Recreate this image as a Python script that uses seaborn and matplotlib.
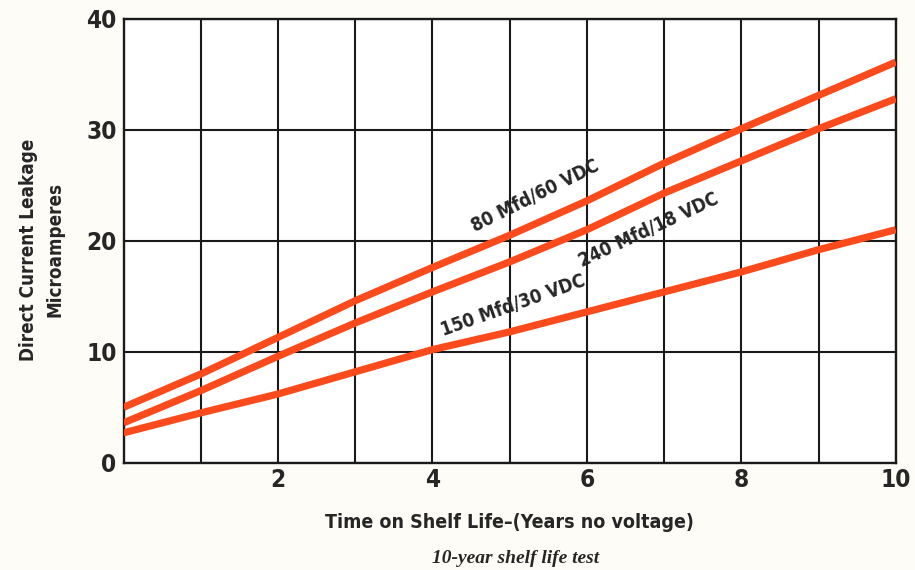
import numpy as np
import pandas as pd
import matplotlib
matplotlib.use('Agg')
import matplotlib.pyplot as plt
import seaborn as sns

# values (x = years on shelf)
years = [0, 1, 2, 3, 4, 5, 6, 7, 8, 9, 10]
leak_80_60 = [5.0, 8.0, 11.3, 14.6, 17.6, 20.5, 23.6, 27.0, 30.1, 33.1, 36.1]
leak_240_18 = [3.6, 6.5, 9.6, 12.6, 15.4, 18.1, 21.0, 24.3, 27.2, 30.1, 32.8]
leak_150_30 = [2.7, 4.5, 6.2, 8.2, 10.2, 11.8, 13.6, 15.4, 17.2, 19.2, 21.0]
series_names = ['80 Mfd/60 VDC', '240 Mfd/18 VDC', '150 Mfd/30 VDC']
x_ticks = [2, 4, 6, 8, 10]
y_ticks = [0, 10, 20, 30, 40]

df = pd.concat([
    pd.DataFrame({'years': years, 'leak': vals, 'cap': name})
    for name, vals in zip(series_names, [leak_80_60, leak_240_18, leak_150_30])
])

sns.set_style('white')
plt.rcParams['font.family'] = ['DejaVu Sans']
plt.rcParams['font.stretch'] = 'condensed'
plt.rcParams['font.weight'] = 'bold'

line_color = '#fb4a1c'
bg = '#fdfcf6'

fig = plt.figure(figsize=(9.15, 5.7), dpi=100, facecolor=bg)
ax = fig.add_axes([0.135, 0.188, 0.844, 0.779])
ax.set_facecolor('white')

sns.lineplot(data=df, x='years', y='leak', hue='cap',
             palette=[line_color] * 3, linewidth=5.2, legend=False,
             solid_capstyle='butt', ax=ax, zorder=3)

ax.set_xlim(0, 10)
ax.set_ylim(0, 40)
ax.set_xticks(x_ticks)
ax.set_xticks(np.arange(1, 10, 2), minor=True)
ax.set_yticks(y_ticks)
ax.grid(True, which='both', color='#1a1a1a', linewidth=1.5, zorder=1)
ax.set_axisbelow(True)
for s in ax.spines.values():
    s.set_color('#1a1a1a')
    s.set_linewidth(1.7)
ax.tick_params(which='both', length=0, labelsize=17.5, pad=5)
ax.tick_params(axis='x', pad=4)
for lab in ax.get_xticklabels() + ax.get_yticklabels():
    lab.set_fontweight('bold')

ax.set_xlabel('Time on Shelf Life\u2013(Years no voltage)', fontsize=14,
              fontweight='bold', labelpad=15)
ax.set_ylabel('Direct Current Leakage\nMicroamperes', fontsize=13.5,
              fontweight='bold', linespacing=1.5)
ax.yaxis.set_label_coords(-0.076, 0.48)

# inline curve labels
ax.text(5.33, 24.0, series_names[0], rotation=26.5, fontsize=13.5, fontweight='bold',
        ha='center', va='center', zorder=4)
ax.text(6.8, 21.0, series_names[1], rotation=25, fontsize=13.5, fontweight='bold',
        ha='center', va='center', zorder=4)
ax.text(5.04, 14.2, series_names[2], rotation=19.5, fontsize=13.5, fontweight='bold',
        ha='center', va='center', zorder=4)

fig.text(0.564, 0.005, '10-year shelf life test', fontsize=14, style='italic',
         fontweight='bold', family=['Liberation Serif', 'DejaVu Serif'],
         ha='center', va='bottom')

fig.savefig('out.png', dpi=100, facecolor=bg)
